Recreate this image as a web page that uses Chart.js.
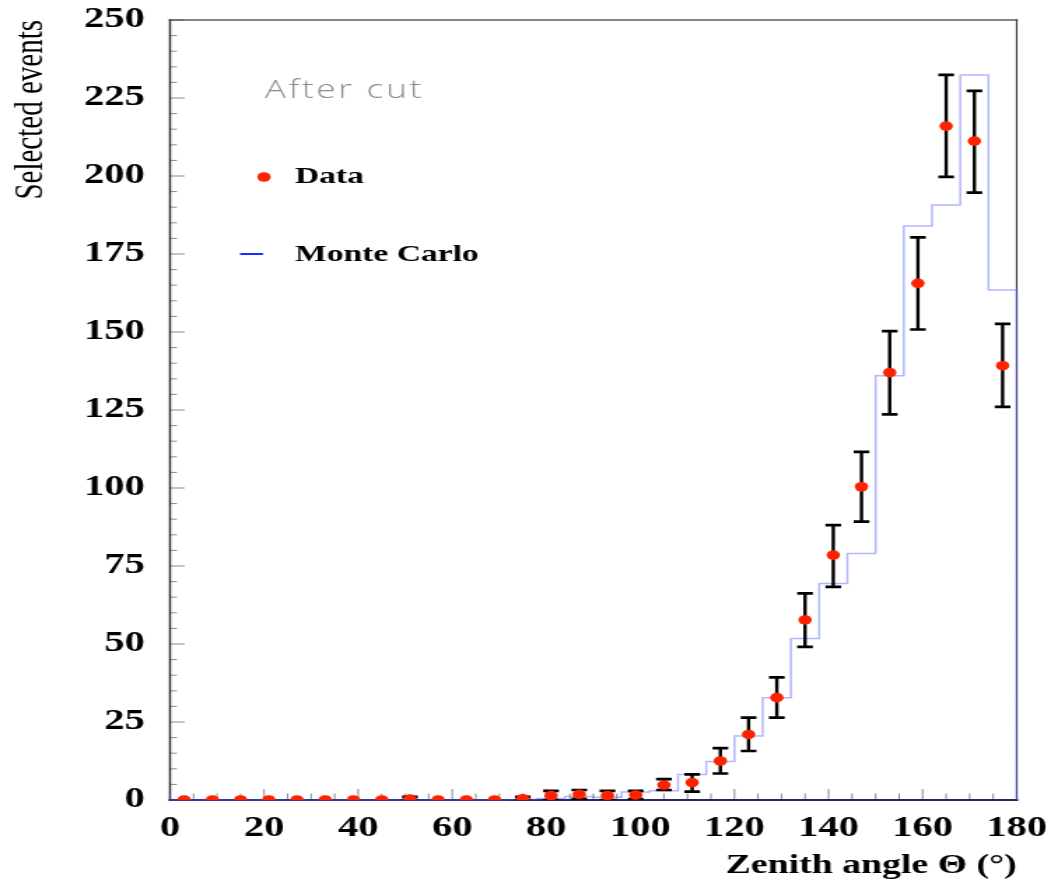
<!DOCTYPE html>
<html>
<head>
<meta charset="utf-8">
<script src="https://cdn.jsdelivr.net/npm/chart.js@4.4.1/dist/chart.umd.min.js"></script>
<style>
  html, body { margin: 0; padding: 0; background: #ffffff; }
  #c { display: block; width: 1051px; height: 882px; }
</style>
</head>
<body>
<canvas id="c" width="751" height="882" style="width:1051px;height:882px;"></canvas>
<script>
// ---------------- data ----------------
const angleCenters = [3, 9, 15, 21, 27, 33, 39, 45, 51, 57, 63, 69, 75, 81, 87,
                      93, 99, 105, 111, 117, 123, 129, 135, 141, 147, 153, 159, 165, 171, 177];
const binHalfWidth = 3;
const dataValues = [0, 0, 0, 0, 0, 0, 0, 0, 0.3, 0, 0, 0, 0.4, 1.4, 1.8,
                    1.4, 1.6, 4.8, 5.6, 12.5, 21, 32.8, 57.7, 78.5, 100.4, 137, 165.6, 216, 211.2, 139.2];
const dataLow  = [null, null, null, null, null, null, null, null, 0, null, null, null, 0, 0, 0.4,
                  0, 0.3, 3.2, 2.7, 8.5, 15.7, 26.4, 49.1, 68.3, 89.2, 123.6, 150.8, 199.7, 194.7, 126];
const dataHigh = [null, null, null, null, null, null, null, null, 1.0, null, null, null, 1.0, 2.9, 3.2,
                  2.9, 2.9, 6.7, 8.2, 16.6, 26.4, 39.3, 66.2, 88.1, 111.6, 150.3, 180.3, 232.4, 227.3, 152.6];
const mcValues = [0, 0, 0, 0, 0, 0, 0, 0, 0, 0, 0, 0, 0.2, 0.5, 1.1,
                  0.9, 2.6, 3.0, 8.2, 12.3, 20.5, 32.8, 51.8, 69.4, 79, 136, 184, 190.7, 232.4, 163.5];
const xTickValues = [0, 20, 40, 60, 80, 100, 120, 140, 160, 180];
const yTickValues = [0, 25, 50, 75, 100, 125, 150, 175, 200, 225, 250];
const legendLabels = ['Data', 'Monte Carlo'];
const panelLabel = 'After cut';
const xTitle = 'Zenith angle \u0398 (\u00B0)';
const yTitle = 'Selected events';

// ---------------- derived datasets ----------------
const dataPoints = angleCenters.map((c, i) => ({ x: c, y: dataValues[i] }));
const mcPoints = angleCenters.map((c, i) => ({ x: c - binHalfWidth, y: mcValues[i] }));
mcPoints.push({ x: angleCenters[angleCenters.length - 1] + binHalfWidth, y: 0 });

// ---------------- layout constants (canvas px; canvas is stretched 1.4x horizontally) ----------------
const SX = 1051 / 751;
const AREA_LEFT = 170 / SX;
const AREA_RIGHT = 1016.7 / SX;
const AREA_TOP = 20;
const AREA_BOTTOM = 800;

const serif = "'Liberation Serif', 'Times New Roman', serif";

const frameTicks = {
  id: 'frameTicks',
  beforeDatasetsDraw(chart) {
    const { ctx, chartArea: a, scales: { x, y } } = chart;
    ctx.save();
    ctx.strokeStyle = '#8a8a8a';
    ctx.lineWidth = 1;
    // y ticks (inward)
    for (let v = y.min; v <= y.max + 1e-9; v += 5) {
      const py = y.getPixelForValue(v);
      const major = Math.abs(v % 25) < 1e-9;
      const len = major ? 10.5 : 5;
      ctx.beginPath();
      ctx.moveTo(a.left, py);
      ctx.lineTo(a.left + len, py);
      ctx.stroke();
    }
    // x ticks (inward)
    for (let v = x.min; v <= x.max + 1e-9; v += 5) {
      const px = x.getPixelForValue(v);
      const major = Math.abs(v % 20) < 1e-9;
      const len = major ? 11 : 6.5;
      ctx.beginPath();
      ctx.moveTo(px, a.bottom);
      ctx.lineTo(px, a.bottom - len);
      ctx.stroke();
    }
    // frame
    ctx.lineCap = 'square';
    ctx.strokeStyle = '#5a5a5a'; ctx.lineWidth = 1.6;
    ctx.beginPath(); ctx.moveTo(a.left, a.top); ctx.lineTo(a.right, a.top); ctx.stroke();
    ctx.strokeStyle = '#3a3a3a'; ctx.lineWidth = 1.1;
    ctx.beginPath(); ctx.moveTo(a.right, a.top); ctx.lineTo(a.right, a.bottom); ctx.stroke();
    ctx.strokeStyle = '#333333'; ctx.lineWidth = 1.5;
    ctx.beginPath(); ctx.moveTo(a.left, a.top); ctx.lineTo(a.left, a.bottom); ctx.stroke();
    ctx.strokeStyle = '#262660'; ctx.lineWidth = 2;
    ctx.beginPath(); ctx.moveTo(a.left, a.bottom); ctx.lineTo(a.right, a.bottom); ctx.stroke();
    ctx.restore();
  },
  beforeDatasetDraw(chart, args) {
    if (args.index !== 0) return;
    const { ctx, chartArea: a, scales: { x, y } } = chart;
    ctx.save();
    ctx.beginPath();
    ctx.rect(a.left, a.top, a.right - a.left, a.bottom - a.top);
    ctx.clip();
    ctx.strokeStyle = '#000000';
    const cap = 5.6;
    angleCenters.forEach((c, i) => {
      if (dataHigh[i] == null) return;
      const px = x.getPixelForValue(c);
      const yl = y.getPixelForValue(dataLow[i]);
      const yh = y.getPixelForValue(dataHigh[i]);
      ctx.lineWidth = 2.4;
      ctx.beginPath(); ctx.moveTo(px, yl); ctx.lineTo(px, yh); ctx.stroke();
      ctx.lineWidth = 2.7;
      ctx.beginPath();
      ctx.moveTo(px - cap, yh); ctx.lineTo(px + cap, yh);
      ctx.moveTo(px - cap, yl); ctx.lineTo(px + cap, yl);
      ctx.stroke();
    });
    ctx.restore();
  },
  afterDraw(chart) {
    const { ctx, chartArea: a } = chart;
    const w = a.right - a.left;
    ctx.save();
    // "After cut"
    ctx.fillStyle = '#8c8c8c';
    ctx.font = "300 25px 'Open Sans', 'Liberation Sans', sans-serif";
    try { ctx.letterSpacing = '2px'; } catch (e) {}
    ctx.textAlign = 'left';
    ctx.textBaseline = 'alphabetic';
    ctx.fillText(panelLabel, a.left + w * 0.112, 98);
    try { ctx.letterSpacing = '0px'; } catch (e) {}
    // legend: Data
    const dotX = a.left + w * 0.1110;
    const textX = a.left + w * 0.1476;
    ctx.fillStyle = '#ff2200';
    ctx.beginPath(); ctx.arc(dotX, 177, 4.8, 0, Math.PI * 2); ctx.fill();
    ctx.fillStyle = '#000000';
    ctx.font = 'bold 24px ' + serif;
    ctx.textBaseline = 'middle';
    ctx.fillText(legendLabels[0], textX, 177);
    // legend: Monte Carlo
    ctx.strokeStyle = '#1a2bff';
    ctx.lineWidth = 2;
    ctx.beginPath();
    ctx.moveTo(a.left + w * 0.0827, 254);
    ctx.lineTo(a.left + w * 0.1098, 254);
    ctx.stroke();
    ctx.fillText(legendLabels[1], textX, 255);
    ctx.restore();
  }
};

new Chart(document.getElementById('c'), {
  type: 'scatter',
  data: {
    datasets: [
      {
        label: legendLabels[0],
        data: dataPoints,
        showLine: false,
        pointRadius: 4.8,
        pointHoverRadius: 4.8,
        pointBackgroundColor: '#ff2200',
        pointBorderWidth: 0,
        pointBorderColor: '#ff2200',
        clip: 0
      },
      {
        label: legendLabels[1],
        data: mcPoints,
        showLine: true,
        stepped: 'before',
        borderColor: 'rgba(80, 95, 255, 0.45)',
        borderWidth: 1.5,
        pointRadius: 0,
        fill: false,
        clip: false
      }
    ]
  },
  options: {
    responsive: false,
    animation: false,
    devicePixelRatio: 1,
    events: [],
    layout: { padding: { left: 0, right: 751 - AREA_RIGHT, top: AREA_TOP, bottom: 0 } },
    plugins: {
      legend: { display: false },
      tooltip: { enabled: false },
      title: { display: false }
    },
    scales: {
      x: {
        type: 'linear',
        min: 0, max: 180,
        grid: { display: false, drawTicks: false },
        border: { display: false },
        afterBuildTicks(scale) { scale.ticks = xTickValues.map(v => ({ value: v })); },
        afterFit(scale) {
          scale.height = 882 - AREA_BOTTOM;
          scale.paddingLeft = 0; scale.paddingRight = 0;
        },
        ticks: {
          padding: 11,
          maxRotation: 0, minRotation: 0, autoSkip: false,
          color: '#000000',
          font: { family: serif, size: 29, weight: 'bold' }
        },
        title: {
          display: true,
          text: xTitle,
          align: 'end',
          color: '#000000',
          padding: 0,
          font: { family: serif, size: 27, weight: 'bold' }
        }
      },
      y: {
        type: 'linear',
        min: 0, max: 250,
        grid: { display: false, drawTicks: false },
        border: { display: false },
        afterBuildTicks(scale) { scale.ticks = yTickValues.map(v => ({ value: v })); },
        afterFit(scale) {
          scale.width = AREA_LEFT;
          scale.paddingTop = 0; scale.paddingBottom = 0;
        },
        ticks: {
          padding: 18,
          color: '#000000',
          font: { family: serif, size: 29, weight: 'bold' }
        },
        title: {
          display: true,
          text: yTitle,
          align: 'end',
          color: '#000000',
          padding: { top: 4.5, bottom: 0 },
          font: { family: serif, size: 29, weight: 'normal' }
        }
      }
    }
  },
  plugins: [frameTicks]
});
</script>
</body>
</html>
